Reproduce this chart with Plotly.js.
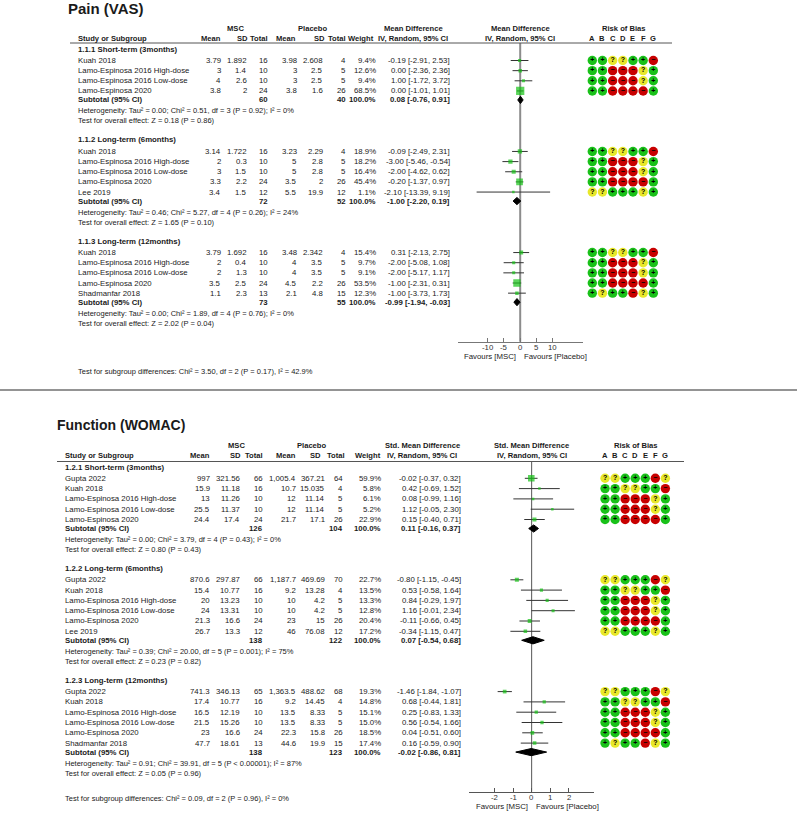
<!DOCTYPE html>
<html>
<head>
<meta charset="utf-8">
<script src="https://cdn.plot.ly/plotly-3.0.1.min.js"></script>
<style>body{margin:0;background:#fff}</style>
</head>
<body>
<div id="chart" style="width:797px;height:821px"></div>
<script>
// ---------- Pain (VAS) data ----------
var painGroups = ['1.1.1 Short-term (3months)', '1.1.2 Long-term (6months)', '1.1.3 Long-term (12months)'];
var painGroupOf = [0, 0, 0, 0, 1, 1, 1, 1, 1, 2, 2, 2, 2, 2];
var painStudy = ['Kuah 2018', 'Lamo-Espinosa 2016 High-dose', 'Lamo-Espinosa 2016 Low-dose', 'Lamo-Espinosa 2020',
  'Kuah 2018', 'Lamo-Espinosa 2016 High-dose', 'Lamo-Espinosa 2016 Low-dose', 'Lamo-Espinosa 2020', 'Lee 2019',
  'Kuah 2018', 'Lamo-Espinosa 2016 High-dose', 'Lamo-Espinosa 2016 Low-dose', 'Lamo-Espinosa 2020', 'Shadmanfar 2018'];
var painMscMean = [3.79, 3, 4, 3.8, 3.14, 2, 3, 3.3, 3.4, 3.79, 2, 2, 3.5, 1.1];
var painMscSd = [1.892, 1.4, 2.6, 2, 1.722, 0.3, 1.5, 2.2, 1.5, 1.692, 0.4, 1.3, 2.5, 2.3];
var painMscN = [16, 10, 10, 24, 16, 10, 10, 24, 12, 16, 10, 10, 24, 13];
var painPlaMean = [3.98, 3, 3, 3.8, 3.23, 5, 5, 3.5, 5.5, 3.48, 4, 4, 4.5, 2.1];
var painPlaSd = [2.608, 2.5, 2.5, 1.6, 2.29, 2.8, 2.8, 2, 19.9, 2.342, 3.5, 3.5, 2.2, 4.8];
var painPlaN = [4, 5, 5, 26, 4, 5, 5, 26, 12, 4, 5, 5, 26, 15];
var painWeight = [9.4, 12.6, 9.4, 68.5, 18.9, 18.2, 16.4, 45.4, 1.1, 15.4, 9.7, 9.1, 53.5, 12.3];
var painMd = [-0.19, 0, 1, 0, -0.09, -3, -2, -0.2, -2.1, 0.31, -2, -2, -1, -1];
var painLo = [-2.91, -2.36, -1.72, -1.01, -2.49, -5.46, -4.62, -1.37, -13.39, -2.13, -5.08, -5.17, -2.31, -3.73];
var painHi = [2.53, 2.36, 3.72, 1.01, 2.31, -0.54, 0.62, 0.97, 9.19, 2.75, 1.08, 1.17, 0.31, 1.73];
var painRob = ['++??++-', '++---?+', '++---?+', '++----+',
  '++??++-', '++---?+', '++---?+', '++----+', '??+++?+',
  '++??++-', '++---?+', '++---?+', '++----+', '+?++-?+'];
var painSubMscN = [60, 72, 73];
var painSubPlaN = [40, 52, 55];
var painSubMd = [0.08, -1.00, -0.99];
var painSubLo = [-0.76, -2.20, -1.94];
var painSubHi = [0.91, 0.19, -0.03];
var painHet = ['Heterogeneity: Tau² = 0.00; Chi² = 0.51, df = 3 (P = 0.92); I² = 0%',
  'Heterogeneity: Tau² = 0.46; Chi² = 5.27, df = 4 (P = 0.26); I² = 24%',
  'Heterogeneity: Tau² = 0.00; Chi² = 1.89, df = 4 (P = 0.76); I² = 0%'];
var painOverall = ['Test for overall effect: Z = 0.18 (P = 0.86)',
  'Test for overall effect: Z = 1.65 (P = 0.10)',
  'Test for overall effect: Z = 2.02 (P = 0.04)'];
var painSubgroupTest = 'Test for subgroup differences: Chi² = 3.50, df = 2 (P = 0.17), I² = 42.9%';
var painTicks = [-10, -5, 0, 5, 10];
var painTickText = ['-10', '-5', '0', '5', '10'];

// ---------- Function (WOMAC) data ----------
var funcGroups = ['1.2.1 Short-term (3months)', '1.2.2 Long-term (6months)', '1.2.3 Long-term (12months)'];
var funcGroupOf = [0, 0, 0, 0, 0, 1, 1, 1, 1, 1, 1, 2, 2, 2, 2, 2, 2];
var funcStudy = ['Gupta 2022', 'Kuah 2018', 'Lamo-Espinosa 2016 High-dose', 'Lamo-Espinosa 2016 Low-dose', 'Lamo-Espinosa 2020',
  'Gupta 2022', 'Kuah 2018', 'Lamo-Espinosa 2016 High-dose', 'Lamo-Espinosa 2016 Low-dose', 'Lamo-Espinosa 2020', 'Lee 2019',
  'Gupta 2022', 'Kuah 2018', 'Lamo-Espinosa 2016 High-dose', 'Lamo-Espinosa 2016 Low-dose', 'Lamo-Espinosa 2020', 'Shadmanfar 2018'];
var funcMscMean = [997, 15.9, 13, 25.5, 24.4, 870.6, 15.4, 20, 24, 21.3, 26.7, 741.3, 17.4, 16.5, 21.5, 23, 47.7];
var funcMscSd = [321.56, 11.18, 11.26, 11.37, 17.4, 297.87, 10.77, 13.23, 13.31, 16.6, 13.3, 346.13, 10.77, 12.19, 15.26, 16.6, 18.61];
var funcMscN = [66, 16, 10, 10, 24, 66, 16, 10, 10, 24, 12, 65, 16, 10, 10, 24, 13];
var funcPlaMean = [1005.4, 10.7, 12, 12, 21.7, 1187.7, 9.2, 10, 10, 23, 46, 1363.5, 9.2, 13.5, 13.5, 22.3, 44.6];
var funcPlaSd = [367.21, 15.035, 11.14, 11.14, 17.1, 469.69, 13.28, 4.2, 4.2, 15, 76.08, 488.62, 14.45, 8.33, 8.33, 15.8, 19.9];
var funcPlaN = [64, 4, 5, 5, 26, 70, 4, 5, 5, 26, 12, 68, 4, 5, 5, 26, 15];
var funcWeight = [59.9, 5.8, 6.1, 5.2, 22.9, 22.7, 13.5, 13.3, 12.8, 20.4, 17.2, 19.3, 14.8, 15.1, 15.0, 18.5, 17.4];
var funcSmd = [-0.02, 0.42, 0.08, 1.12, 0.15, -0.80, 0.53, 0.84, 1.16, -0.11, -0.34, -1.46, 0.68, 0.25, 0.56, 0.04, 0.16];
var funcLo = [-0.37, -0.69, -0.99, -0.05, -0.40, -1.15, -0.58, -0.29, -0.01, -0.66, -1.15, -1.84, -0.44, -0.83, -0.54, -0.51, -0.59];
var funcHi = [0.32, 1.52, 1.16, 2.30, 0.71, -0.45, 1.64, 1.97, 2.34, 0.45, 0.47, -1.07, 1.81, 1.33, 1.66, 0.60, 0.90];
var funcRob = ['??+++-?', '++??++-', '++---?+', '++---?+', '++----+',
  '??+++-?', '++??++-', '++---?+', '++---?+', '++----+', '??+++?+',
  '??+++-?', '++??++-', '++---?+', '++---?+', '++----+', '+?++-?+'];
var funcSubMscN = [126, 138, 138];
var funcSubPlaN = [104, 122, 123];
var funcSubSmd = [0.11, 0.07, -0.02];
var funcSubLo = [-0.16, -0.54, -0.86];
var funcSubHi = [0.37, 0.68, 0.81];
var funcHet = ['Heterogeneity: Tau² = 0.00; Chi² = 3.79, df = 4 (P = 0.43); I² = 0%',
  'Heterogeneity: Tau² = 0.39; Chi² = 20.00, df = 5 (P = 0.001); I² = 75%',
  'Heterogeneity: Tau² = 0.91; Chi² = 39.91, df = 5 (P < 0.00001); I² = 87%'];
var funcOverall = ['Test for overall effect: Z = 0.80 (P = 0.43)',
  'Test for overall effect: Z = 0.23 (P = 0.82)',
  'Test for overall effect: Z = 0.05 (P = 0.96)'];
var funcSubgroupTest = 'Test for subgroup differences: Chi² = 0.09, df = 2 (P = 0.96), I² = 0%';
var funcTicks = [-2, -1, 0, 1, 2];
var funcTickText = ['-2', '-1', '0', '1', '2'];

// risk of bias domains
var robLetters = ['A', 'B', 'C', 'D', 'E', 'F', 'G'];
var robCodes = ['+', '?', '-'];
var robGlyphs = ['+', '?', '\u2212'];

// ---------- drawing helpers ----------
var W = 797, H = 821;
var FONT = 'Arial, "Liberation Sans", sans-serif';
var TXT = '#1a1a1a';
var annotations = [], shapes = [], traces = [];

function px(x) { return x / W; }
function py(y) { return 1 - y / H; }

// thousands separator, keep decimals as typed
function fmt(n) {
  var p = String(n).split('.');
  p[0] = p[0].replace(/\B(?=(\d{3})+(?!\d))/g, ',');
  return p.join('.');
}
function ciText(m, lo, hi) {
  return m.toFixed(2) + ' [' + lo.toFixed(2) + ', ' + hi.toFixed(2) + ']';
}
function esc(s) { return s.replace(/</g, '&lt;'); }

function label(x, y, s, anchor, bold, size, xref, color) {
  annotations.push({
    xref: xref || 'paper', yref: 'paper',
    x: xref ? x : px(x), y: py(y),
    text: bold ? '<b>' + esc(s) + '</b>' : esc(s),
    showarrow: false, xanchor: anchor, yanchor: 'middle', borderpad: 0,
    font: { family: FONT, size: size || 7.8, color: color || TXT }
  });
}

function hline(x0, x1, y, color, width) {
  shapes.push({ type: 'line', xref: 'paper', yref: 'paper', x0: px(x0), x1: px(x1), y0: py(y), y1: py(y),
    line: { color: color, width: width } });
}

// draws one forest panel: table text, CIs, squares, diamonds, risk of bias
function panel(d, g) {
  // row positions
  var rows = [], hdrs = [], subs = [];
  var y = g.firstGroupY;
  for (var k = 0; k < d.groups.length; k++) {
    hdrs.push(y);
    var r = y + g.firstOff;
    for (var i = 0; i < d.groupOf.length; i++) {
      if (d.groupOf[i] === k) { rows[i] = r; r += g.step; }
    }
    r = r - g.step + g.subGap;
    subs.push(r);
    y = r + 40;
  }

  // titles and headers
  label(g.titleX, g.titleY, g.title, 'left', true, g.titleSize);
  label(g.mscX, g.hdr1Y, 'MSC', 'center', true, 7.6);
  label(g.plaX, g.hdr1Y, 'Placebo', 'center', true, 7.6);
  label(g.effX, g.hdr1Y, g.effName, 'center', true, 7.6);
  label(g.zeroX, g.hdr1Y, g.effName, 'center', true, 7.6);
  label(g.robX, g.hdr1Y, 'Risk of Bias', 'center', true, 7.6);
  label(g.nameX, g.hdr2Y, 'Study or Subgroup', 'left', true, 7.6);
  ['Mean', 'SD', 'Total', 'Mean', 'SD', 'Total', 'Weight'].forEach(function (h, j) {
    label(g.hdrCols[j], g.hdr2Y, h, 'right', true, 7.6);
  });
  label(g.effX, g.hdr2Y, 'IV, Random, 95% CI', 'center', true, 7.6);
  label(g.zeroX, g.hdr2Y, 'IV, Random, 95% CI', 'center', true, 7.6);
  robLetters.forEach(function (L) { label(L, g.hdr2Y, L, 'center', true, 7.6, g.robAx); });
  hline(g.lineX[0], g.lineX[1], g.lineY, '#555', 1);

  // study rows
  d.study.forEach(function (s, i) {
    var yy = rows[i];
    label(g.nameX, yy, s, 'left');
    var vals = [fmt(d.mscMean[i]), fmt(d.mscSd[i]), String(d.mscN[i]), fmt(d.plaMean[i]), fmt(d.plaSd[i]),
      String(d.plaN[i]), d.weight[i].toFixed(1) + '%', ciText(d.est[i], d.lo[i], d.hi[i])];
    vals.forEach(function (v, j) { label(g.cols[j], yy, v, 'right'); });
  });

  // subgroup rows
  d.groups.forEach(function (name, k) {
    label(g.nameX, hdrs[k], name, 'left', true);
    label(g.nameX, subs[k], 'Subtotal (95% CI)', 'left', true);
    label(g.cols[2], subs[k], String(d.subMscN[k]), 'right', true);
    label(g.cols[5], subs[k], String(d.subPlaN[k]), 'right', true);
    label(g.cols[6], subs[k], '100.0%', 'right', true);
    label(g.cols[7], subs[k], ciText(d.subEst[k], d.subLo[k], d.subHi[k]), 'right', true);
    label(g.nameX, subs[k] + g.hetGap, d.het[k], 'left', false, 7.5);
    label(g.nameX, subs[k] + g.hetGap + 10, d.overall[k], 'left', false, 7.5);
  });
  label(g.nameX, g.subgroupY, d.subgroupTest, 'left', false, 7.5);

  // axis tick labels, placed on the forest scale
  g.ticks.forEach(function (t, j) {
    label(t, g.axisY + 6, g.tickText[j], 'center', false, 7.8, g.ax, '#333');
  });
  label(g.zeroX - 3, g.favY, 'Favours [MSC]', 'right');
  label(g.zeroX + 3, g.favY, 'Favours [Placebo]', 'left');

  // line of no effect
  shapes.push({ type: 'line', xref: g.ax, yref: 'y', x0: 0, x1: 0, y0: g.lineY, y1: g.axisY, layer: 'below',
    line: { color: g.zeroColor, width: g.zeroWidth } });

  // confidence intervals
  var cx = [], cy = [];
  d.lo.forEach(function (lo, i) { cx.push(lo, d.hi[i], null); cy.push(rows[i], rows[i], null); });
  traces.push({ type: 'scatter', mode: 'lines', x: cx, y: cy, xaxis: g.ax, yaxis: 'y',
    line: { color: '#333', width: 1 }, hoverinfo: 'skip' });

  // weighted squares
  traces.push({ type: 'scatter', mode: 'markers', x: d.est, y: rows.slice(), xaxis: g.ax, yaxis: 'y',
    marker: { symbol: 'square', color: '#16c216', line: { width: 0 },
      size: d.weight.map(function (w) { return Math.max(2.5, g.sqScale * Math.sqrt(w)); }) },
    hoverinfo: 'skip' });

  // pooled diamonds
  d.subEst.forEach(function (m, k) {
    var yy = subs[k];
    traces.push({ type: 'scatter', mode: 'lines', fill: 'toself', fillcolor: '#000',
      x: [d.subLo[k], m, d.subHi[k], m, d.subLo[k]],
      y: [yy, yy - 3.6, yy, yy + 3.6, yy], xaxis: g.ax, yaxis: 'y',
      line: { color: '#000', width: 1 }, hoverinfo: 'skip' });
  });

  // risk of bias dots
  robCodes.forEach(function (code, c) {
    var rx = [], ry = [], rt = [];
    d.rob.forEach(function (str, i) {
      for (var j = 0; j < str.length; j++) {
        if (str[j] === code) { rx.push(robLetters[j]); ry.push(rows[i]); rt.push(robGlyphs[c]); }
      }
    });
    traces.push({ type: 'scatter', mode: 'markers+text', x: rx, y: ry, text: rt, textposition: 'middle center',
      xaxis: g.robAx, yaxis: 'y', cliponaxis: false,
      marker: { size: 9.4, color: ['#19c119', '#e8e82a', '#c80000'][c], line: { width: 0 } },
      textfont: { family: FONT, size: 7, color: '#000', weight: 'bold' }, hoverinfo: 'skip' });
  });
}

function forestAxis(g) {
  return {
    domain: [px(g.dom[0]), px(g.dom[1])], range: [-g.half, g.half], anchor: 'free', position: py(g.axisY),
    showline: true, linecolor: g.axisColor, linewidth: g.axisWidth, ticks: 'inside', ticklen: 4,
    tickcolor: g.axisColor, tickwidth: 1, tickvals: g.ticks, showticklabels: false,
    showgrid: false, zeroline: false, fixedrange: true
  };
}

// ---------- panel geometry ----------
var topGeom = {
  title: 'Pain (VAS)', titleX: 67, titleY: 8.5, titleSize: 15, effName: 'Mean Difference',
  nameX: 77, cols: [222, 248, 269, 298, 324, 347, 377, 451],
  hdrCols: [222, 249, 269, 297, 326, 347, 375],
  mscX: 235, plaX: 312, effX: 413, zeroX: 520.2, robX: 623,
  hdr1Y: 29, hdr2Y: 39, lineY: 43, lineX: [70, 672],
  firstGroupY: 49, firstOff: 11.5, step: 10.15, subGap: 9, hetGap: 11,
  axisY: 341.7, favY: 357, subgroupY: 372, ticks: painTicks, tickText: painTickText,
  dom: [457.7, 582.7], half: 19.2, ax: 'x', robAx: 'x3', sqScale: 1.0,
  zeroColor: '#8c8c8c', zeroWidth: 2, axisColor: '#777', axisWidth: 1.5
};
var botGeom = {
  title: 'Function (WOMAC)', titleX: 56, titleY: 425, titleSize: 14, effName: 'Std. Mean Difference',
  nameX: 64.3, cols: [210.7, 240.7, 264.3, 296.7, 326, 344.3, 381.7, 461.7],
  hdrCols: [210.7, 242, 264.3, 296.7, 322, 346, 381.7],
  mscX: 236, plaX: 311, effX: 422, zeroX: 531.65, robX: 635,
  hdr1Y: 446, hdr2Y: 455.5, lineY: 461.5, lineX: [57, 684],
  firstGroupY: 467, firstOff: 11.3, step: 10.3, subGap: 9, hetGap: 11,
  axisY: 791.7, favY: 806.7, subgroupY: 798, ticks: funcTicks, tickText: funcTickText,
  dom: [469, 594.3], half: 3.39, ax: 'x2', robAx: 'x4', sqScale: 0.85,
  zeroColor: '#555', zeroWidth: 1, axisColor: '#555', axisWidth: 1
};

panel({
  groups: painGroups, groupOf: painGroupOf, study: painStudy,
  mscMean: painMscMean, mscSd: painMscSd, mscN: painMscN, plaMean: painPlaMean, plaSd: painPlaSd, plaN: painPlaN,
  weight: painWeight, est: painMd, lo: painLo, hi: painHi, rob: painRob,
  subMscN: painSubMscN, subPlaN: painSubPlaN, subEst: painSubMd, subLo: painSubLo, subHi: painSubHi,
  het: painHet, overall: painOverall, subgroupTest: painSubgroupTest
}, topGeom);

panel({
  groups: funcGroups, groupOf: funcGroupOf, study: funcStudy,
  mscMean: funcMscMean, mscSd: funcMscSd, mscN: funcMscN, plaMean: funcPlaMean, plaSd: funcPlaSd, plaN: funcPlaN,
  weight: funcWeight, est: funcSmd, lo: funcLo, hi: funcHi, rob: funcRob,
  subMscN: funcSubMscN, subPlaN: funcSubPlaN, subEst: funcSubSmd, subLo: funcSubLo, subHi: funcSubHi,
  het: funcHet, overall: funcOverall, subgroupTest: funcSubgroupTest
}, botGeom);

// divider between the two plots
hline(0, 797, 390, '#707070', 1.5);

var layout = {
  width: W, height: H, margin: { l: 0, r: 0, t: 0, b: 0 },
  paper_bgcolor: '#fff', plot_bgcolor: 'rgba(0,0,0,0)', showlegend: false, hovermode: false,
  yaxis: { domain: [0, 1], range: [H, 0], visible: false, fixedrange: true },
  xaxis: forestAxis(topGeom),
  xaxis2: forestAxis(botGeom),
  xaxis3: { type: 'category', categoryarray: robLetters, categoryorder: 'array', range: [-0.5, 6.5],
    domain: [px(587.2), px(658.4)], anchor: 'y', visible: false, fixedrange: true },
  xaxis4: { type: 'category', categoryarray: robLetters, categoryorder: 'array', range: [-0.5, 6.5],
    domain: [px(600), px(670.4)], anchor: 'y', visible: false, fixedrange: true },
  annotations: annotations, shapes: shapes
};

Plotly.newPlot('chart', traces, layout, { displayModeBar: false, staticPlot: true });
</script>
</body>
</html>
